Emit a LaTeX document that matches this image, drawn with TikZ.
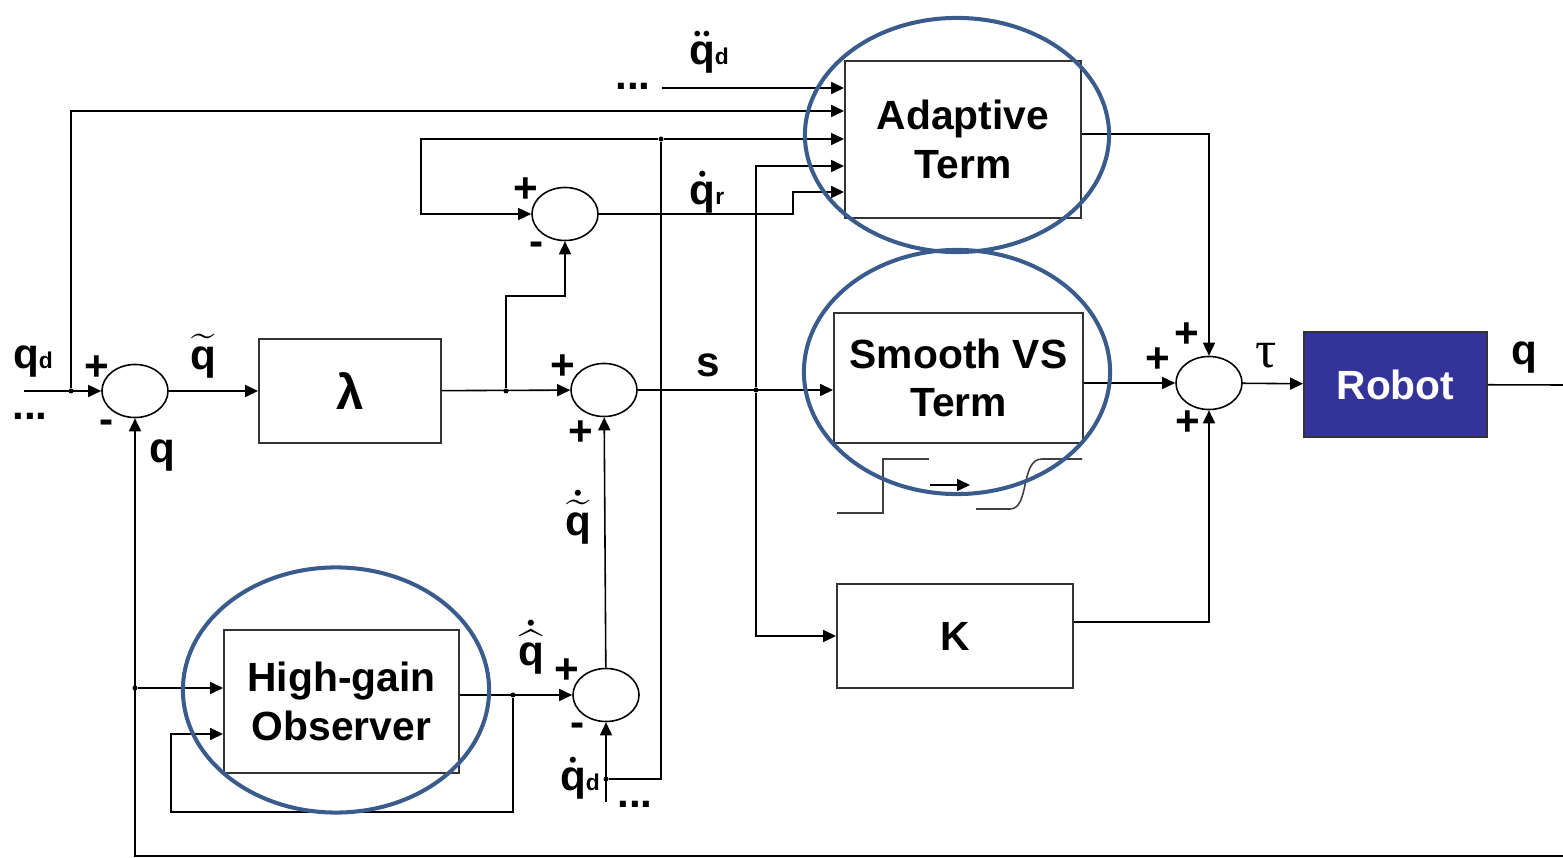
\documentclass[tikz,border=0pt]{standalone}
\usepackage{fontspec}
\usepackage{amsmath}
\setmainfont{Liberation Sans}
\newfontfamily\taufont{Liberation Serif}
\usetikzlibrary{shapes.geometric,arrows.meta,positioning,calc}
\definecolor{ringblue}{RGB}{58,92,140}
\definecolor{robotblue}{RGB}{51,51,153}
\newcommand\sub[1]{{\fontsize{6.5}{7}\selectfont #1}}

\begin{document}
\begin{tikzpicture}[x=0.01cm,y=-0.01cm,
    wire/.style={line width=0.45pt,-{Triangle[length=0.13cm,width=0.12cm]}},
    line/.style={line width=0.45pt},
    block/.style={rectangle,draw=black!80,line width=0.5pt,inner sep=0,
        font=\fontsize{11.6}{13.8}\selectfont\bfseries,align=center},
    sum/.style={ellipse,draw,line width=0.45pt,minimum width=0.66cm,minimum height=0.53cm,inner sep=0},
    ring/.style={ellipse,draw=ringblue,line width=1.15pt,inner sep=0},
    lab/.style={font=\fontsize{12}{12}\selectfont\bfseries\boldmath,inner sep=0},
    dot/.style={circle,fill,inner sep=0,minimum size=0.05cm}]
    \useasboundingbox (0,0) rectangle (1563,858);

    % Blocks
    \node[block,minimum width=1.82cm,minimum height=1.04cm] (lam) at (350,391) {\fontsize{14}{14}\selectfont λ};
    \node[block,minimum width=2.36cm,minimum height=1.57cm] (adapt) at (963,139.5) {Adaptive\\Term};
    \node[block,minimum width=2.49cm,minimum height=1.30cm] (smooth) at (958.5,378) {Smooth VS\\Term};
    \node[block,minimum width=2.36cm,minimum height=1.04cm] (kgain) at (955,636) {K};
    \node[block,minimum width=2.35cm,minimum height=1.43cm] (hgo) at (341.5,701.5) {High-gain\\Observer};
    \node[block,fill=robotblue,text=white,minimum width=1.83cm,minimum height=1.05cm] (robot) at (1395.5,384.5) {Robot};

    % Summing junctions
    \node[sum] (sum1) at (135,391) {};
    \node[sum] (sum2) at (604,390) {};
    \node[sum] (sum3) at (565,214) {};
    \node[sum] (sum4) at (1209,383) {};
    \node[sum] (sum5) at (606,695) {};

    % Signs
    \node[lab] at (97,368) {+};
    \node[lab] at (107,427) {-};
    \node[lab] at (526,190) {+};
    \node[lab] at (537,249) {-};
    \node[lab] at (563,367) {+};
    \node[lab] at (581,433) {+};
    \node[lab] at (567,671) {+};
    \node[lab] at (578,730) {-};
    \node[lab] at (1187,335) {+};
    \node[lab] at (1158,360) {+};
    \node[lab] at (1188,423) {+};

    % Desired position input
    \coordinate (qin) at (24,391);
    \node[dot] (jqd) at (71,391) {};
    \draw[wire] (qin) -- (sum1);
    \draw[wire] (jqd) |- (adapt.west |- 0,111);
    \node[lab] (qdlab) at (33,362) {q\sub{d}};
    \node[lab] (dotsl) at (30,416) {...};

    % Tracking error and sliding variable
    \draw[wire] (sum1) -- (lam);
    \node[lab] (qerr) at (203,356) {$\widetilde{\mbox{q}}$};
    \draw[wire] (lam) -- (sum2);
    \node[dot] (jlam) at (506,391) {};
    \draw[wire] (jlam) |- (sum3.south |- 0,296) -- (sum3.south);

    % Desired velocity
    \coordinate (qdin) at (606,802);
    \draw[wire] (qdin) -- (sum5);
    \node[dot] (jqdd) at (606,779) {};
    \node[dot] (jtop) at (661,139) {};
    \draw[line] (jqdd) -| (jtop);
    \draw[wire] (jtop) -- (adapt.west |- jtop);
    \draw[wire] (jtop) -| ($(sum3.west)+(-110,0)$) -- (sum3);
    \node[lab] (qdlab2) at (580,778) {$\dot{\mbox{q}}$\sub{d}};
    \node[lab] (dotsb) at (635,804) {...};

    % Desired acceleration
    \coordinate (qddin) at (662,88);
    \draw[wire] (qddin) -- (adapt.west |- qddin);
    \node[lab] (dotst) at (633,86) {...};
    \node[lab] (qddlab) at (709,52) {$\ddot{\mbox{q}}$\sub{d}};

    % Reference velocity
    \draw[wire] (sum3) -- ++(228,0) |- (adapt.west |- 0,192);
    \node[lab] (qrlab) at (707,192) {$\dot{\mbox{q}}$\sub{r}};

    % s to the terms
    \draw[wire] (sum2) -- (smooth.west |- sum2);
    \node[lab] (slab) at (708,365) {s};
    \node[dot] (js) at (756,390) {};
    \draw[wire] (js) |- (adapt.west |- 0,166);
    \draw[wire] (js) |- (kgain);

    % Torque sum
    \draw[wire] (adapt.east |- 0,134) -| (sum4);
    \draw[wire] (smooth.east |- sum4) -- (sum4);
    \draw[wire] (kgain.east |- 0,622) -| (sum4);
    \draw[wire] (sum4) -- (robot);
    \node[lab,font=\fontsize{15}{15}\selectfont\taufont] (taulab) at (1266,356) {τ};
    \coordinate (qout) at (1563,385);
    \draw[line] (robot) -- (qout);
    \node[lab] (qlab) at (1524,358) {q};

    % Position feedback and observer
    \coordinate (qfb) at (1563,856);
    \draw[wire] (qfb) -| (sum1);
    \node[lab] (qlab2) at (162,456) {q};
    \node[dot] (jq) at (135,688) {};
    \draw[wire] (jq) -- (hgo.west |- jq);
    \draw[wire] (hgo.east |- sum5) -- (sum5);
    \node[dot] (jh) at (513,695) {};
    \draw[wire] (jh) |- (171,812) |- (hgo.west |- 0,734);
    \node[lab] (qhlab) at (531,647) {$\dot{\widehat{\mbox{q}}}$};
    \draw[wire] (sum5) -- (sum2);
    \node[lab] (qelab) at (578,517) {$\dot{\widetilde{\mbox{q}}}$};

    % Switching sketch
    \draw[line,black!75] (837,513) -- (883,513) -- (883,459) -- (929,459);
    \draw[wire] (930,485) -- (970,485);
    \draw[line,black!75] (976,509) -- (1010,509) .. controls (1030,509) and (1020,459) .. (1042,459) -- (1082,459);

    % Highlight rings
    \node[ring,minimum width=3.04cm,minimum height=2.34cm] (ring1) at (957,135) {};
    \node[ring,minimum width=3.06cm,minimum height=2.44cm] (ring2) at (957,372) {};
    \node[ring,minimum width=3.06cm,minimum height=2.45cm] (ring3) at (336,690) {};
\end{tikzpicture}
\end{document}
